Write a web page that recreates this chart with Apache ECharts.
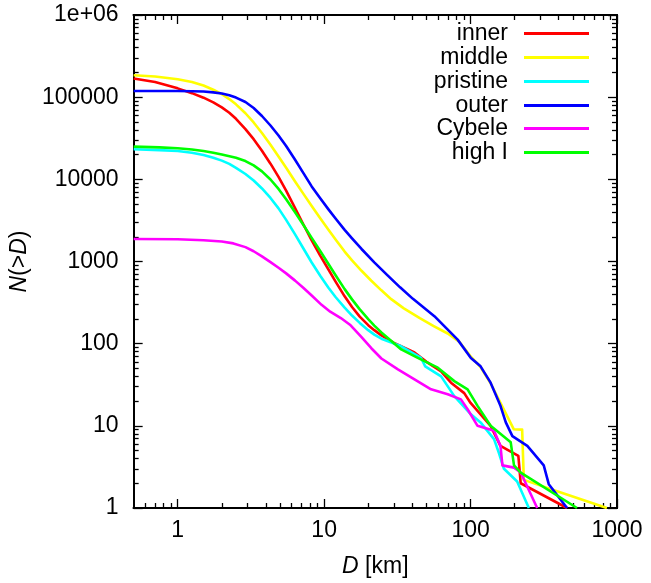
<!DOCTYPE html>
<html>
<head>
<meta charset="utf-8">
<script src="https://cdn.jsdelivr.net/npm/echarts@6/dist/echarts.min.js"></script>
<style>
html,body{margin:0;padding:0;background:#fff;}
#chart{width:651px;height:583px;}
</style>
</head>
<body>
<div id="chart"></div>
<script>
// ---- data: [D (km), N(>D)] ----
const seriesNames = ['inner', 'middle', 'pristine', 'outer', 'Cybele', 'high I'];
const seriesColors = ['#ff0000', '#ffff00', '#00ffff', '#0000ff', '#ff00ff', '#00ff00'];

const innerData = [[0.5,169000],[0.7,152700],[1,128000],[1.25,111900],[1.5,98600],[1.75,86500],[2,75200],[2.25,64600],[2.5,54500],[2.9,40800],[3.3,30800],[3.76,22300],[4.3,15500],[4.88,10700],[5.5,7290],[6.33,4470],[7.2,2840],[8.22,1810],[9.4,1180],[10.7,800],[12,566],[13.8,377],[15.5,279],[17.5,213],[20,168],[22,146],[24.6,126],[30,102],[41.4,78],[50,60],[62.9,46],[73.5,33.5],[90.5,25],[100,19],[137,10],[160,5.7],[212,4.3],[220,2],[456,1]];

const middleData = [[0.5,185000],[0.7,178600],[1,165200],[1.25,152800],[1.5,138400],[1.75,123300],[2,108600],[2.25,94900],[2.5,81800],[2.9,63700],[3.3,49200],[3.76,36600],[4.3,26400],[4.88,19000],[5.5,13800],[6.33,9420],[7.2,6700],[8.22,4730],[9.4,3370],[10.7,2440],[12,1840],[13.8,1320],[15.5,1030],[18,771],[21,583],[24.5,449],[28.7,348],[35,269],[45,204],[56,164],[69.8,133],[84,105],[100,70],[117,52],[137,33],[160,19],[197,9.1],[225,9],[231,2.2],[390,1.6],[853,1]];

const pristineData = [[0.5,23200],[0.75,22700],[1,22080],[1.25,21100],[1.5,19800],[1.75,18300],[2,16900],[2.25,15400],[2.5,13800],[2.9,11600],[3.3,9680],[3.76,7740],[4.3,5930],[4.88,4430],[5.5,3210],[6.33,2140],[7.2,1450],[8.22,973],[9.4,670],[10.7,479],[12,367],[13.8,274],[15.5,220],[17.5,179],[20,146],[22,129],[24.6,115],[33.6,93],[45.9,67],[49,53],[62.9,40],[77.4,23],[100.5,13.8],[117,11],[144.6,6.9],[156,4.7],[169,3],[208,2.1],[250,1]];

const outerData = [[0.5,119000],[1,119000],[1.25,117800],[1.5,117000],[1.75,114300],[2,110600],[2.25,105400],[2.5,98900],[2.9,87300],[3.3,73800],[3.76,59000],[4.3,45200],[4.88,34200],[5.5,25400],[6.33,17300],[7.2,12000],[8.22,8200],[9.4,5870],[10.7,4310],[12,3310],[13.8,2430],[15.5,1910],[18,1420],[22,977],[27,682],[33,485],[40.4,351],[56.6,216],[81.6,112],[100.5,67],[117,53],[137,33.5],[160,17.5],[174,11],[193,7.5],[244,5.7],[316,3.3],[342,1.95],[456,1]];

const cybeleData = [[0.5,1875],[1,1862],[1.5,1817],[2,1754],[2.4,1661],[2.9,1496],[3.3,1333],[3.76,1153],[4.3,982],[4.88,838],[5.5,717],[6.33,585],[7.2,479],[8.22,386],[9.6,297],[11,245],[13,205],[15,170],[18,120],[21,88],[24.6,66],[31.9,48.6],[41.4,36.8],[53.7,27.8],[69.8,24.2],[85.9,21],[95.4,15.9],[111.6,10],[144.6,8.7],[160,5.7],[165,3.3],[198,3.1],[220,2.7],[285,1]];

const highIData = [[0.5,25000],[0.75,24500],[1,23900],[1.25,23100],[1.5,22100],[1.75,21100],[2,20000],[2.5,18300],[2.9,16700],[3.3,14800],[3.76,12500],[4.3,9960],[4.88,7640],[5.5,5730],[6.33,3970],[7.2,2800],[8.22,1940],[9.4,1340],[10.7,931],[12,675],[13.8,461],[15.5,346],[17.4,265],[20,199],[22,166],[24.6,137],[33.6,85],[43.6,67],[59.7,51],[77.4,35],[95.4,27.8],[111.6,17.5],[137,10],[188,6.3],[198,3.3],[220,2.7],[533,1]];

const allData = [innerData, middleData, pristineData, outerData, cybeleData, highIData];

// ---- ticks ----
const xMajor = [1, 10, 100, 1000];
const xMinor = [0.6,0.7,0.8,0.9, 2,3,4,5,6,7,8,9, 20,30,40,50,60,70,80,90, 200,300,400,500,600,700,800,900];
const yMajor = [1, 10, 100, 1000, 10000, 100000, 1000000];
const yMinor = [];
[1, 10, 100, 1000, 10000, 100000].forEach(function (b) { for (let k = 2; k <= 9; k++) yMinor.push(b * k); });

const FONT = 'Liberation Sans, Arial, Helvetica, sans-serif';
const FS = 23;

function yFmt(v) { return v >= 1000000 ? '1e+06' : String(Math.round(v)); }
function xFmt(v) { return String(Math.round(v)); }

function makeAxis(kind, pos, ticks, len, withLabels) {
  const isX = kind === 'x';
  return {
    type: 'log', logBase: 10, position: pos,
    min: isX ? 0.5 : 1, max: isX ? 1000 : 1000000,
    axisLine: { show: true, onZero: false, lineStyle: { color: '#000', width: 2 } },
    axisTick: { show: true, inside: true, length: len, customValues: ticks, lineStyle: { color: '#000', width: 1.3 } },
    axisLabel: withLabels ? { show: true, customValues: ticks, fontFamily: FONT, fontSize: FS, color: '#000', margin: isX ? 11 : 15, formatter: isX ? xFmt : yFmt } : { show: false },
    splitLine: { show: false },
    minorTick: { show: false },
    silent: true
  };
}

const xAxes = [
  makeAxis('x', 'bottom', xMajor, 9, true),
  makeAxis('x', 'bottom', xMinor, 5, false),
  makeAxis('x', 'top', xMajor, 9, false),
  makeAxis('x', 'top', xMinor, 5, false)
];
xAxes[0].name = '{i|D} [km]';
xAxes[0].nameLocation = 'middle';
xAxes[0].nameGap = 47;
xAxes[0].nameTextStyle = { fontFamily: FONT, fontSize: FS, color: '#000', rich: { i: { fontFamily: FONT, fontSize: FS, fontStyle: 'italic', color: '#000' } } };

const yAxes = [
  makeAxis('y', 'left', yMajor, 9, true),
  makeAxis('y', 'left', yMinor, 5, false),
  makeAxis('y', 'right', yMajor, 9, false),
  makeAxis('y', 'right', yMinor, 5, false)
];
yAxes[0].name = '{i|N}(>{i|D})';
yAxes[0].nameLocation = 'middle';
yAxes[0].nameGap = 101;
yAxes[0].nameTextStyle = { fontFamily: FONT, fontSize: FS, color: '#000', rich: { i: { fontFamily: FONT, fontSize: FS, fontStyle: 'italic', color: '#000' } } };

const legendRowTop = [35, 59, 83, 107, 130, 154];
const legends = seriesNames.map(function (n, i) {
  return {
    data: [n], orient: 'vertical', align: 'right', right: 62, top: legendRowTop[i] - 13,
    padding: 0, icon: 'rect', itemWidth: 65, itemHeight: 3, selectedMode: false,
    textStyle: { fontFamily: FONT, fontSize: FS, color: '#000', padding: [0, 11, 0, 0] }
  };
});

const series = seriesNames.map(function (n, i) {
  return {
    name: n, type: 'line', xAxisIndex: 0, yAxisIndex: 0,
    data: allData[i], showSymbol: false, symbol: 'none', smooth: false,
    lineStyle: { color: seriesColors[i], width: 2.6, join: 'round' },
    itemStyle: { color: seriesColors[i] },
    animation: false, silent: true
  };
});

const chart = echarts.init(document.getElementById('chart'), null, { renderer: 'canvas' });
chart.setOption({
  backgroundColor: '#fff',
  animation: false,
  grid: { left: 131, right: 34, top: 15, bottom: 74, containLabel: false },
  xAxis: xAxes,
  yAxis: yAxes,
  legend: legends,
  series: series
});
</script>
</body>
</html>
